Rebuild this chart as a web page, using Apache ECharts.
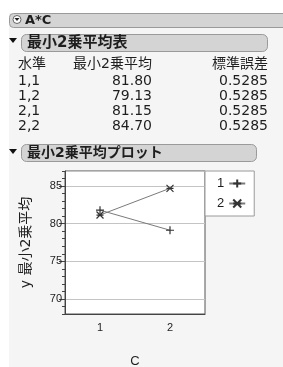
<!DOCTYPE html>
<html>
<head>
<meta charset="utf-8">
<script src="https://cdn.jsdelivr.net/npm/echarts@6/dist/echarts.min.js"></script>
<style>
  html, body { margin: 0; padding: 0; background: #fff; }
  #chart { width: 283px; height: 367px; }
</style>
</head>
<body>
<div id="chart"></div>
<script>
// least squares means table (A,C levels)
const levels = ["1,1", "1,2", "2,1", "2,2"];
const lsMeans = [81.80, 79.13, 81.15, 84.70];
const stdErrs = [0.5285, 0.5285, 0.5285, 0.5285];

// plot: x = C, one line per A
const cCats = ["1", "2"];
const aNames = ["1", "2"];
const seriesA1 = [81.80, 79.13];
const seriesA2 = [81.15, 84.70];
const yMin = 68, yMax = 87;

const FONT = '"DejaVu Sans", "Noto Sans CJK JP", sans-serif';
const TXT = "#1e1e1e";

const chart = echarts.init(document.getElementById("chart"));

// header bars, little triangles, table text
const graphic = [
    { type: "rect", shape: { x: 0, y: 0, width: 9, height: 367 }, style: { fill: "#fff" } },
    { type: "rect", shape: { x: 0, y: 0, width: 283, height: 13 }, style: { fill: "#fff" } },
    // A*C bar
    { type: "rect", shape: { x: 9.5, y: 13.5, width: 290, height: 14, r: 4 }, style: { fill: "#d4d4d4", stroke: "#9a9a9a", lineWidth: 1 } },
    { type: "circle", shape: { cx: 17, cy: 19.5, r: 4 }, style: { fill: "#fff", stroke: "#666", lineWidth: 1 } },
    { type: "polygon", shape: { points: [[14.5, 18], [19.5, 18], [17, 21]] }, style: { fill: "#222" } },
    { type: "text", x: 25, y: 20.5, style: { text: "A*C", font: "bold 13px " + FONT, fill: TXT, verticalAlign: "middle" } },
    // table header bar
    { type: "rect", shape: { x: 21.5, y: 34.5, width: 246, height: 17, r: 5 }, style: { fill: "#d4d4d4", stroke: "#9a9a9a", lineWidth: 1 } },
    { type: "polygon", shape: { points: [[9, 38], [17, 38], [13, 43]] }, style: { fill: "#111" } },
    { type: "text", x: 27, y: 43, style: { text: "最小2乗平均表", font: "bold 15px " + FONT, fill: TXT, verticalAlign: "middle" } },
    // plot header bar
    { type: "rect", shape: { x: 21.5, y: 144.5, width: 235, height: 17, r: 5 }, style: { fill: "#d4d4d4", stroke: "#9a9a9a", lineWidth: 1 } },
    { type: "polygon", shape: { points: [[9, 149], [17, 149], [13, 154]] }, style: { fill: "#111" } },
    { type: "text", x: 27, y: 153, style: { text: "最小2乗平均プロット", font: "bold 14px " + FONT, fill: TXT, verticalAlign: "middle" } },
    // table column headers
    { type: "text", x: 18, y: 64, style: { text: "水準", font: "14px " + FONT, fill: TXT, verticalAlign: "middle" } },
    { type: "text", x: 152, y: 64, style: { text: "最小2乗平均", font: "14px " + FONT, fill: TXT, align: "right", verticalAlign: "middle" } },
    { type: "text", x: 268, y: 64, style: { text: "標準誤差", font: "14px " + FONT, fill: TXT, align: "right", verticalAlign: "middle" } }
];

levels.forEach((lv, i) => {
    const y = 81 + i * 15;
    graphic.push({ type: "text", x: 18, y: y, style: { text: lv, font: "14px " + FONT, fill: TXT, verticalAlign: "middle" } });
    graphic.push({ type: "text", x: 152, y: y, style: { text: lsMeans[i].toFixed(2), font: "14px " + FONT, fill: TXT, align: "right", verticalAlign: "middle" } });
    graphic.push({ type: "text", x: 268, y: y, style: { text: stdErrs[i].toFixed(4), font: "14px " + FONT, fill: TXT, align: "right", verticalAlign: "middle" } });
});

const plusSym = "path://M5,0V10M0,5H10";
const starSym = "path://M0,0L10,10M10,0L0,10M0,5H10";
const plotBox = { left: 65, right: 78, top: 171, bottom: 53, containLabel: false, outerBoundsMode: "none" };

const option = {
    animation: false,
    backgroundColor: "#f5f5f5",
    graphic: graphic,
    grid: [
        Object.assign({ show: true, backgroundColor: "#fff", borderColor: "#555", borderWidth: 1 }, plotBox),
        // second grid on the same box, only for the minor y ticks
        Object.assign({ show: false }, plotBox)
    ],
    legend: {
        data: aNames,
        left: 205, top: 171,
        orient: "vertical",
        align: "right",
        backgroundColor: "#fff",
        borderColor: "#9a9a9a",
        borderWidth: 1,
        padding: [6, 8, 6, 12],
        itemWidth: 16, itemHeight: 10, itemGap: 7,
        textStyle: { fontSize: 13, fontFamily: "Liberation Sans", color: TXT }
    },
    xAxis: [
        {
            gridIndex: 0,
            type: "category",
            data: cCats,
            boundaryGap: true,
            name: "C",
            nameLocation: "middle",
            nameGap: 41,
            nameTextStyle: { fontSize: 13, fontFamily: "Liberation Sans", color: TXT },
            axisLine: { lineStyle: { color: "#444" } },
            axisTick: { length: 5, lineStyle: { color: "#444" } },
            axisLabel: { fontSize: 11, fontFamily: "Liberation Sans", color: TXT, margin: 8 }
        },
        {
            gridIndex: 1,
            type: "category",
            data: cCats,
            show: false
        }
    ],
    yAxis: [
        {
            gridIndex: 0,
            type: "value",
            position: "left",
            min: yMin, max: yMax,
            splitNumber: 4,
            name: "y 最小2乗平均",
            nameLocation: "middle",
            nameGap: 32,
            nameTextStyle: { fontSize: 14, fontFamily: FONT, color: TXT },
            axisLine: { show: true, onZero: false, lineStyle: { color: "#444" } },
            axisTick: { show: true, inside: false, length: 6, lineStyle: { color: "#444" } },
            axisLabel: {
                inside: false, showMinLabel: false, showMaxLabel: false,
                fontSize: 11, fontFamily: "Liberation Sans", color: TXT, margin: 3
            },
            splitLine: { show: true, lineStyle: { color: "#c4c4c4" } }
        },
        {
            gridIndex: 1,
            type: "value",
            position: "left",
            min: yMin, max: yMax,
            interval: 1,
            axisLine: { show: false, onZero: false },
            axisTick: { show: true, inside: false, length: 3, lineStyle: { color: "#444" } },
            axisLabel: { show: false },
            splitLine: { show: false }
        }
    ],
    series: [
        {
            name: aNames[0],
            type: "line",
            data: seriesA1,
            symbol: plusSym,
            symbolSize: 8,
            lineStyle: { color: "#7a7a7a", width: 1 },
            itemStyle: { color: "none", borderColor: "#333", borderWidth: 1.2 },
            emphasis: { disabled: true }
        },
        {
            name: aNames[1],
            type: "line",
            data: seriesA2,
            symbol: starSym,
            symbolSize: 7,
            lineStyle: { color: "#7a7a7a", width: 1 },
            itemStyle: { color: "none", borderColor: "#333", borderWidth: 1.2 },
            emphasis: { disabled: true }
        }
    ]
};

chart.setOption(option);
</script>
</body>
</html>
